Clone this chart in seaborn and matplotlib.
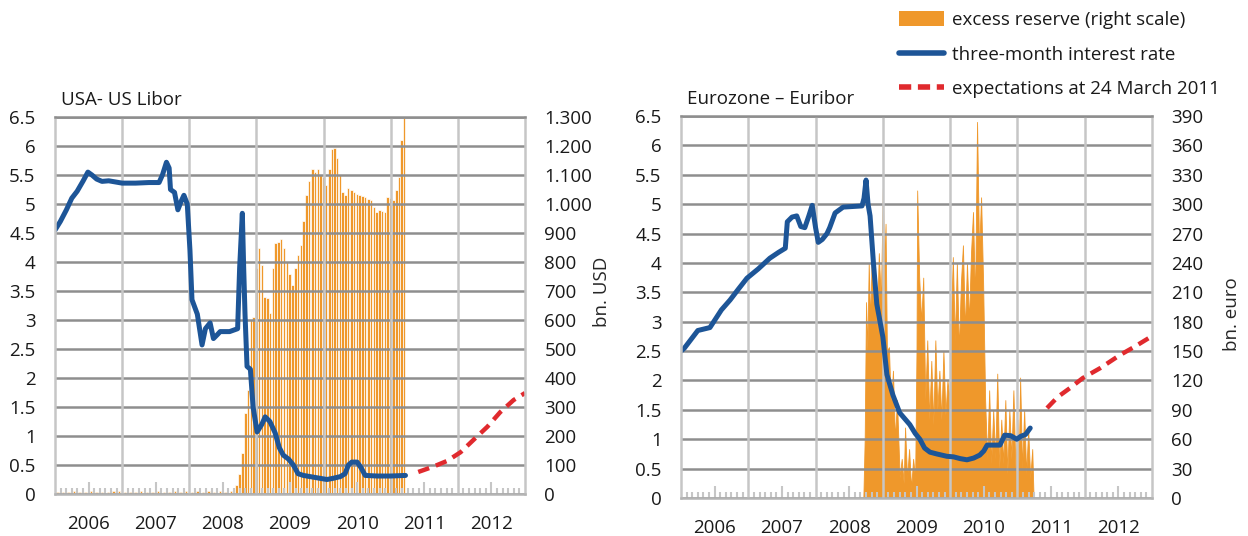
import numpy as np
import pandas as pd
import seaborn as sns
import matplotlib.pyplot as plt
from matplotlib.patches import Patch
from matplotlib.lines import Line2D
from matplotlib.ticker import FixedLocator, FuncFormatter

# ---------------- data (time in decimal years) ----------------
years = [2006, 2007, 2008, 2009, 2010, 2011, 2012]

# USA - 3M Libor (left scale, %)
us_rate_t = [2006.00, 2006.08, 2006.17, 2006.25, 2006.33, 2006.42, 2006.49, 2006.55, 2006.62, 2006.70,
             2006.80, 2006.90, 2007.00, 2007.20, 2007.40, 2007.55, 2007.60, 2007.66, 2007.70, 2007.72,
             2007.78, 2007.83, 2007.88, 2007.92, 2007.97, 2008.01, 2008.04, 2008.12, 2008.19, 2008.24,
             2008.31, 2008.36, 2008.42, 2008.46, 2008.60, 2008.72, 2008.75, 2008.79, 2008.81, 2008.83,
             2008.86, 2008.91, 2008.95, 2009.01, 2009.08, 2009.13, 2009.20, 2009.28, 2009.34, 2009.40,
             2009.48, 2009.55, 2009.62, 2009.70, 2009.80, 2009.95, 2010.05, 2010.14, 2010.25, 2010.32,
             2010.37, 2010.42, 2010.50, 2010.56, 2010.62, 2010.80, 2011.00, 2011.22]
us_rate = [4.55, 4.70, 4.90, 5.10, 5.22, 5.40, 5.55, 5.50, 5.43, 5.39,
           5.40, 5.38, 5.36, 5.36, 5.37, 5.37, 5.50, 5.72, 5.62, 5.25,
           5.20, 4.90, 5.05, 5.15, 5.00, 4.20, 3.35, 3.10, 2.57, 2.85,
           2.95, 2.68, 2.75, 2.80, 2.80, 2.85, 3.90, 4.84, 3.90, 3.10,
           2.20, 2.15, 1.50, 1.07, 1.20, 1.33, 1.25, 1.05, 0.80, 0.67,
           0.60, 0.50, 0.35, 0.32, 0.30, 0.27, 0.25, 0.27, 0.30, 0.35,
           0.50, 0.55, 0.55, 0.45, 0.32, 0.31, 0.31, 0.32]
us_exp_t = [2011.41, 2011.63, 2011.84, 2012.04, 2012.23, 2012.44, 2012.63, 2012.83, 2013.00]
us_exp = [0.38, 0.47, 0.57, 0.72, 0.93, 1.16, 1.41, 1.62, 1.74]

# USA - excess reserves, bn USD (right scale)
us_res_pre = [6, 8, 7, 9, 6, 8, 10, 7, 8, 6, 9, 11, 7, 8, 6, 9, 7, 8, 10, 8, 7, 9, 8, 12,
              7, 9, 8, 10, 7, 9, 8, 11]                       # monthly, Jan 2006 - Aug 2008
us_res = [10, 30, 70, 140, 280, 360, 600, 610, 780, 850, 790, 680, 676, 624, 780, 866,
          870, 880, 850, 800, 760, 720, 780, 824, 860, 940, 1030, 1080, 1120, 1110, 1120, 1100,
          1093, 1065, 1120, 1190, 1193, 1160, 1100, 1040, 1030, 1055, 1050, 1041, 1035, 1031, 1028, 1024,
          1018, 1014, 990, 972, 979, 975, 972, 1024, 1020, 1014, 1048, 1093, 1221, 1297]  # semi-monthly, Sep 2008 - Mar 2011

# Eurozone - 3M Euribor (left scale, %)
eu_rate_t = [2006.00, 2006.05, 2006.15, 2006.25, 2006.43, 2006.60, 2006.73, 2006.85, 2006.98, 2007.15,
             2007.32, 2007.45, 2007.55, 2007.58, 2007.65, 2007.72, 2007.78, 2007.84, 2007.90, 2007.95,
             2008.00, 2008.04, 2008.10, 2008.17, 2008.21, 2008.29, 2008.41, 2008.55, 2008.69, 2008.72,
             2008.75, 2008.78, 2008.81, 2008.86, 2008.91, 2009.00, 2009.06, 2009.15, 2009.25, 2009.40,
             2009.48, 2009.55, 2009.62, 2009.70, 2009.80, 2009.95, 2010.05, 2010.15, 2010.25, 2010.35,
             2010.44, 2010.50, 2010.55, 2010.65, 2010.74, 2010.81, 2010.90, 2010.99, 2011.05, 2011.12,
             2011.19]
eu_rate = [2.50, 2.55, 2.70, 2.85, 2.90, 3.20, 3.37, 3.55, 3.74, 3.90,
           4.08, 4.18, 4.25, 4.70, 4.78, 4.80, 4.62, 4.60, 4.80, 4.98,
           4.60, 4.35, 4.40, 4.50, 4.60, 4.85, 4.95, 4.96, 4.97, 5.10,
           5.41, 5.00, 4.80, 4.00, 3.30, 2.74, 2.10, 1.75, 1.45, 1.25,
           1.10, 1.00, 0.85, 0.78, 0.75, 0.71, 0.70, 0.67, 0.65, 0.68,
           0.73, 0.80, 0.90, 0.90, 0.90, 1.07, 1.06, 1.00, 1.05, 1.08,
           1.19]
eu_exp_t = [2011.44, 2011.60, 2011.78, 2011.97, 2012.23, 2012.52, 2012.75, 2012.95]
eu_exp = [1.53, 1.72, 1.87, 2.04, 2.21, 2.43, 2.58, 2.72]

# Eurozone - excess reserves, bn euro (right scale)
eu_res_t = [2008.71, 2008.73, 2008.75, 2008.77, 2008.79, 2008.81, 2008.84, 2008.86, 2008.88, 2008.91,
            2008.94, 2008.97, 2009.00, 2009.02, 2009.04, 2009.06, 2009.09, 2009.12, 2009.15, 2009.18,
            2009.21, 2009.25, 2009.28, 2009.31, 2009.33, 2009.36, 2009.39, 2009.42, 2009.45, 2009.48,
            2009.50, 2009.51, 2009.54, 2009.57, 2009.60, 2009.63, 2009.66, 2009.69, 2009.72, 2009.75,
            2009.78, 2009.81, 2009.84, 2009.87, 2009.90, 2009.93, 2009.96, 2009.99, 2010.02, 2010.04,
            2010.07, 2010.10, 2010.13, 2010.16, 2010.19, 2010.22, 2010.25, 2010.28, 2010.31, 2010.34,
            2010.37, 2010.40, 2010.43, 2010.46, 2010.49, 2010.52, 2010.55, 2010.58, 2010.61, 2010.64,
            2010.67, 2010.70, 2010.73, 2010.76, 2010.79, 2010.82, 2010.85, 2010.88, 2010.91, 2010.94,
            2010.97, 2011.00, 2011.02, 2011.04, 2011.07, 2011.10, 2011.13, 2011.16, 2011.19, 2011.22,
            2011.24]
eu_res = [0, 60, 200, 150, 240, 180, 260, 200, 235, 170,
          250, 200, 316, 230, 280, 150, 154, 90, 130, 60,
          100, 21, 40, 15, 72, 20, 50, 10, 40, 20,
          150, 314, 225, 180, 225, 100, 161, 80, 140, 75,
          161, 90, 130, 80, 150, 85, 120, 100, 200, 246,
          160, 240, 150, 220, 258, 170, 240, 180, 250, 292,
          200, 384, 250, 307, 220, 100, 40, 110, 35, 90,
          40, 127, 30, 80, 35, 100, 25, 90, 40, 110,
          30, 80, 35, 123, 30, 90, 25, 70, 20, 50,
          0]

ORANGE = '#ef982b'
BLUE = '#1d5597'
RED = '#e02a2e'
GRID_H = '#8e8e8e'
GRID_V = '#c6c6c6'
FONT = ['Open Sans', 'DejaVu Sans']
FS = 13.5


def dec_year(dates):
    dates = pd.DatetimeIndex(dates)
    return np.asarray(dates.year + (dates.dayofyear - 1) / 365.0)


def style_panel(ax, ax2, title, right_max, right_step, right_fmt, right_label, label_xy):
    ax.set_zorder(ax2.get_zorder() + 1)
    ax.patch.set_visible(False)

    ax.set_xlim(2006, 2013)
    ax.set_ylim(0, 6.5)
    ax.set_yticks(np.arange(0, 6.51, 0.5))
    ax.yaxis.set_major_formatter(FuncFormatter(lambda v, p: f"{v:g}"))
    ax.grid(axis='y', color=GRID_H, lw=1.8)
    ax.grid(axis='x', visible=False)
    for yr in years[1:]:
        ax.axvline(yr, color=GRID_V, lw=1.8, zorder=0.8)

    ax.set_xticks([y + 0.5 for y in years])
    ax.set_xticklabels([str(y) for y in years])
    ax.xaxis.set_minor_locator(FixedLocator([y + m / 12 for y in range(2006, 2013) for m in range(1, 12)]))
    ax.tick_params(axis='x', which='both', bottom=True)
    ax.tick_params(axis='x', which='major', direction='in', length=9, width=1.5, color=GRID_V,
                   pad=15, labelsize=FS)
    ax.tick_params(axis='x', which='minor', direction='in', length=4, width=1.5, color=GRID_V)
    ax.tick_params(axis='y', length=0, pad=14, labelsize=FS)

    ax2.set_ylim(0, right_max)
    ax2.set_yticks(np.arange(0, right_max + 1, right_step))
    ax2.yaxis.set_major_formatter(FuncFormatter(right_fmt))
    ax2.tick_params(axis='y', length=0, pad=14, labelsize=FS)
    ax2.grid(False)
    ax2.set_ylabel(right_label, fontsize=FS)
    ax2.yaxis.set_label_coords(*label_xy)

    for s in ax2.spines.values():
        s.set_visible(False)
    ax.spines['top'].set_color(GRID_H)
    ax.spines['top'].set_linewidth(1.8)
    for side in ['left', 'right', 'bottom']:
        ax.spines[side].set_color(GRID_V)
        ax.spines[side].set_linewidth(1.8)
    ax.spines['bottom'].set_color('#b4b4b4')

    ax.text(0.012, 1.045, title, transform=ax.transAxes, fontsize=FS, va='center', ha='left')
    ax.set_xlabel('')
    ax.set_ylabel('')


def main():
    sns.set_theme(style='white')
    plt.rcParams['font.family'] = FONT
    plt.rcParams['text.color'] = '#1a1a1a'
    plt.rcParams['xtick.color'] = '#1a1a1a'
    plt.rcParams['ytick.color'] = '#1a1a1a'

    fig = plt.figure(figsize=(12.48, 5.36), dpi=100)
    ax_us = fig.add_axes([55 / 1248, 1 - 494 / 536, 470 / 1248, 377 / 536])
    ax_eu = fig.add_axes([681 / 1248, 1 - 498 / 536, 471 / 1248, 382 / 536])
    ax_us2 = ax_us.twinx()
    ax_eu2 = ax_eu.twinx()

    # ---- USA ----
    pre_t = dec_year(pd.date_range('2006-01-01', '2008-08-01', freq='MS') + pd.Timedelta(days=14))
    post_t = dec_year(pd.date_range('2008-09-01', '2011-03-15', freq='SMS'))
    ax_us2.bar(pre_t, us_res_pre, width=0.035, color=ORANGE, edgecolor='white', linewidth=0.4)
    ax_us2.bar(post_t, us_res, width=0.0375, color=ORANGE, edgecolor='white', linewidth=0.5)
    sns.lineplot(x=us_rate_t, y=us_rate, ax=ax_us, color=BLUE, lw=3.6, sort=False, estimator=None)
    sns.lineplot(x=us_exp_t, y=us_exp, ax=ax_us, color=RED, lw=3.2, sort=False, estimator=None,
                 linestyle=(0, (2.6, 1.6)))
    style_panel(ax_us, ax_us2, 'USA- US Libor', 1300, 100,
                lambda v, p: f"{int(v):,}".replace(',', '.'), 'bn. USD',
                (1 + 68 / 470, (494 - 292) / 377))

    # ---- Eurozone ----
    ax_eu2.fill_between(eu_res_t, 0, eu_res, color=ORANGE, lw=0.6, edgecolor=ORANGE)
    sns.lineplot(x=eu_rate_t, y=eu_rate, ax=ax_eu, color=BLUE, lw=3.6, sort=False, estimator=None)
    sns.lineplot(x=eu_exp_t, y=eu_exp, ax=ax_eu, color=RED, lw=3.2, sort=False, estimator=None,
                 linestyle=(0, (2.6, 1.6)))
    style_panel(ax_eu, ax_eu2, 'Eurozone \u2013 Euribor', 390, 30,
                lambda v, p: f"{int(v)}", 'bn. euro',
                (1 + 71 / 471, (498 - 314) / 382))

    handles = [Patch(facecolor=ORANGE, edgecolor='none'),
               Line2D([], [], color=BLUE, lw=4),
               Line2D([], [], color=RED, lw=4, linestyle=(0, (2.2, 1.2)))]
    labels = ['excess reserve (right scale)', 'three-month interest rate', 'expectations at 24 March 2011']
    fig.legend(handles, labels, loc='upper left', bbox_to_anchor=(899 / 1248, 1 - 11 / 536),
               frameon=False, fontsize=FS, handlelength=2.4, handleheight=0.8, handletextpad=0.4,
               labelspacing=0.88, borderpad=0, borderaxespad=0)

    fig.savefig('out.png', dpi=100)
    plt.close(fig)


if __name__ == '__main__':
    main()
